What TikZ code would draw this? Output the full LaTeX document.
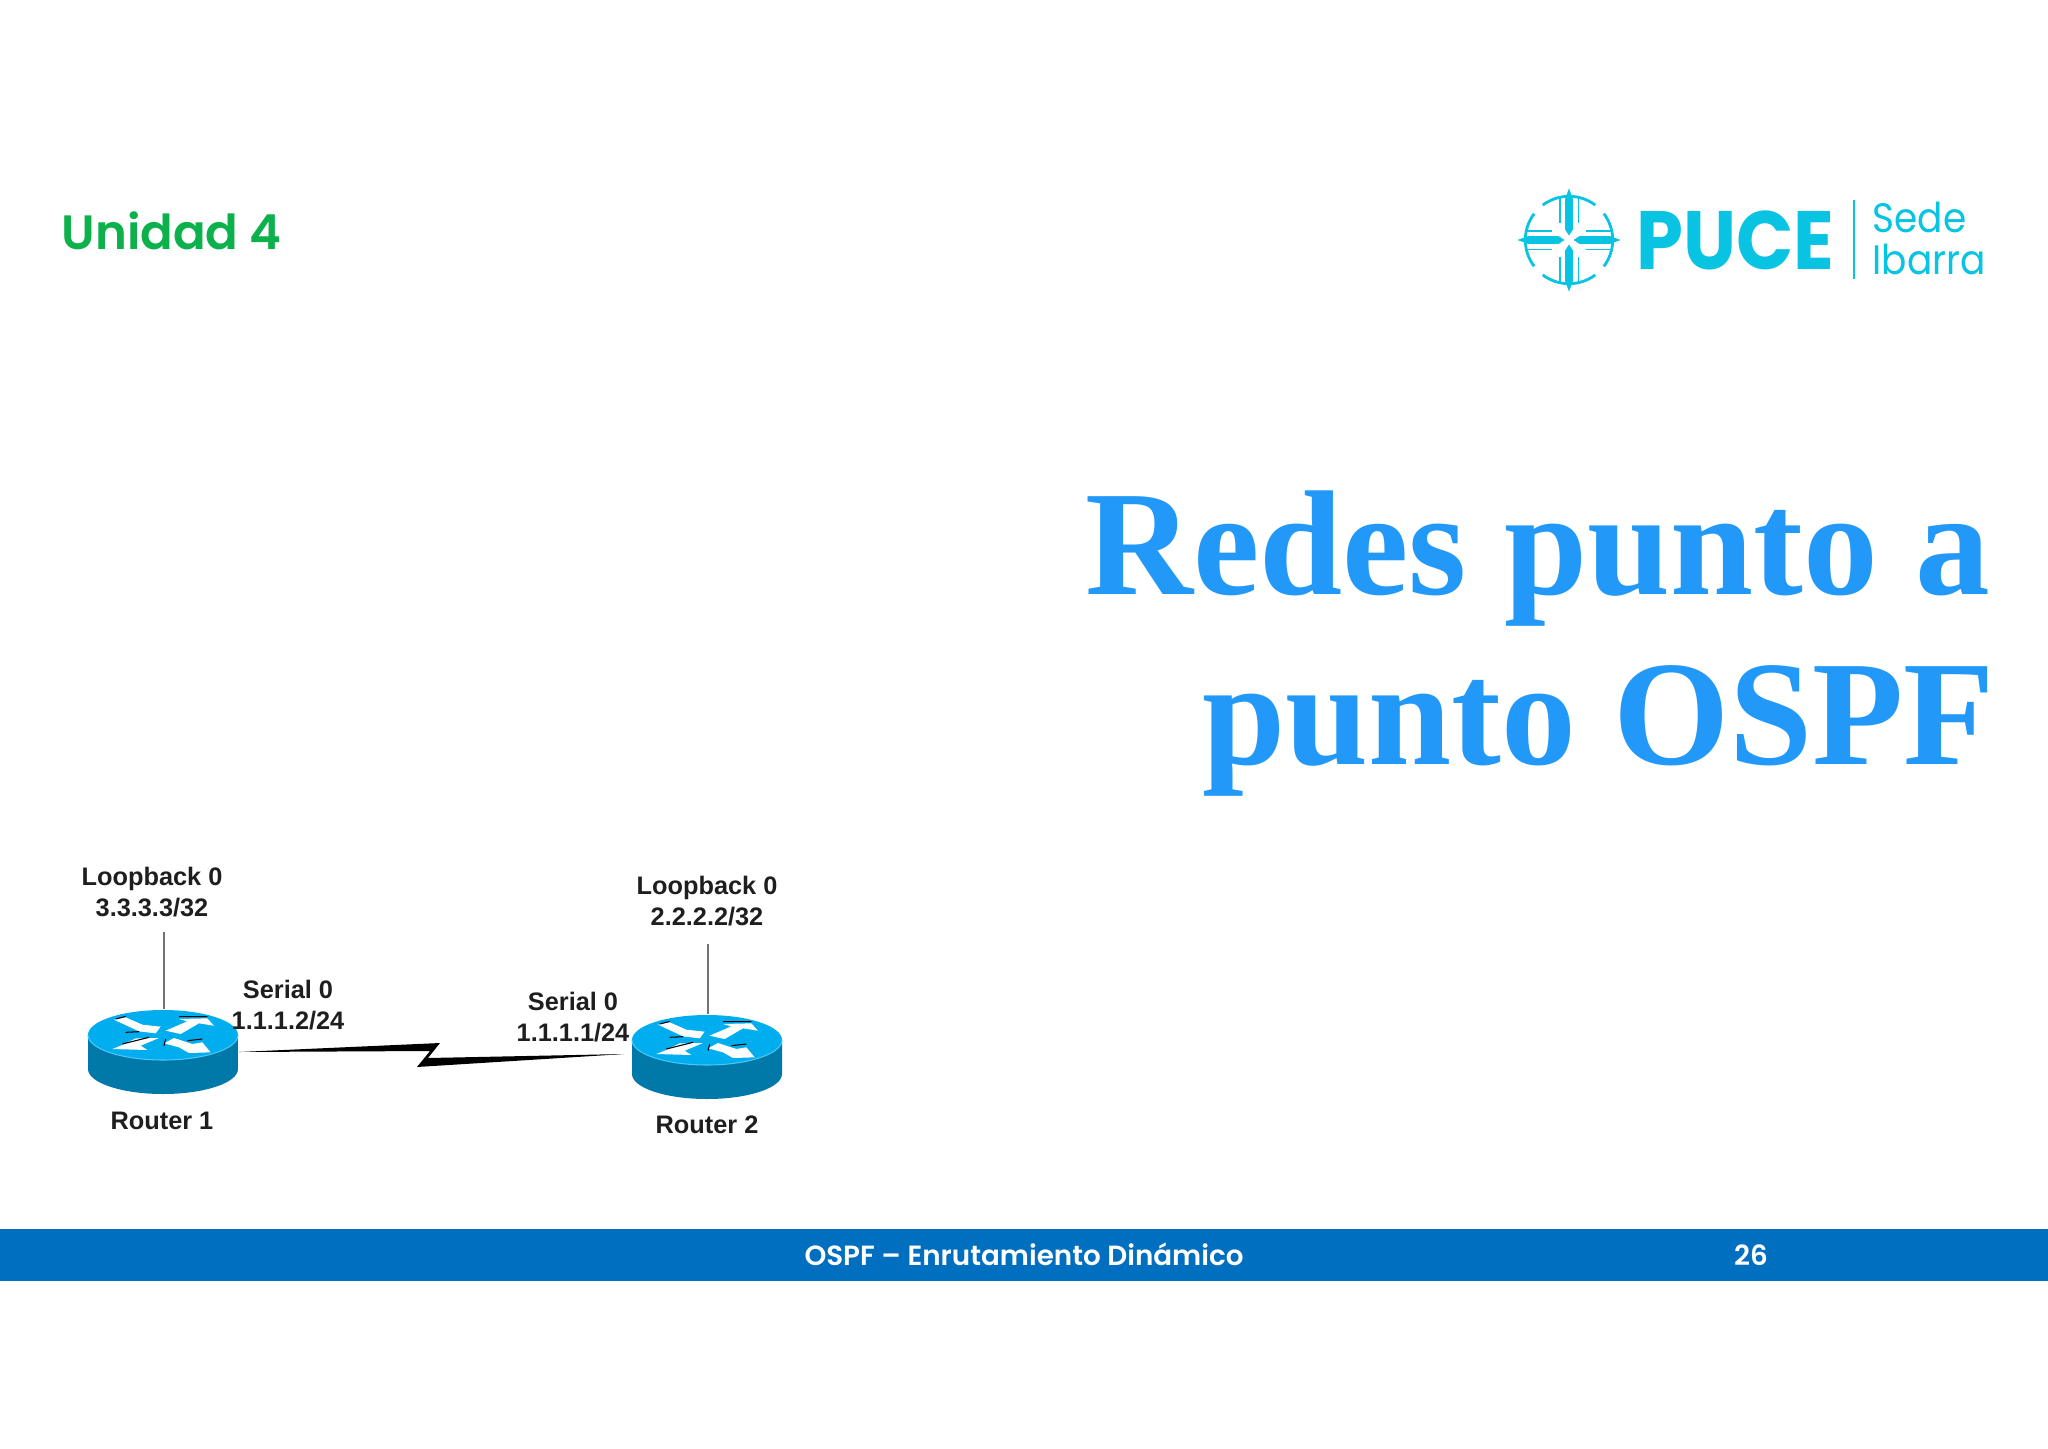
\documentclass[tikz,border=0pt]{standalone}
\usepackage{fontspec}
\setmainfont{Liberation Sans}
\newfontfamily\popfont{Poppins SemiBold}
\newfontfamily\pucefont[FakeStretch=0.91]{Poppins}
\newfontfamily\titlefont{Liberation Serif}
\usetikzlibrary{calc}
\definecolor{pucecyan}{HTML}{08C3E2}
\definecolor{unidadgreen}{HTML}{0DB14B}
\definecolor{titleblue}{HTML}{2299F8}
\definecolor{barblue}{HTML}{006FBF}
\definecolor{routertop}{HTML}{00AEF0}
\definecolor{routerside}{HTML}{0079A9}
\definecolor{labelink}{HTML}{1E1E1E}
\tikzset{
  titletext/.style={anchor=base east,text=titleblue,font=\fontsize{42.5}{46}\selectfont\titlefont\bfseries,inner sep=0pt},
  bartext/.style={anchor=base,text=white,font=\fontsize{7.9}{10}\selectfont\popfont,inner sep=0pt},
  netlabel/.style={anchor=base,align=center,text=labelink,font=\fontsize{7.2}{8.8}\selectfont\bfseries,inner sep=0pt},
  sedetext/.style={anchor=base west,text=pucecyan,font=\fontsize{11.7}{12}\selectfont\pucefont,inner sep=0pt},
  routerbox/.style={minimum width=1.5cm,minimum height=0.84cm,inner sep=0pt},
  stublink/.style={draw=black!55,line width=0.55pt},
}
\begin{document}
\begin{tikzpicture}[x=0.01cm,y=-0.01cm]
    \useasboundingbox (0,0) rectangle (2048,1448);
    % header
    \node[anchor=base west,text=unidadgreen,font=\fontsize{13.7}{16}\selectfont\popfont,inner sep=0pt] (unidad) at (61,249) {Unidad 4};
    % logo
    \begin{scope}[shift={(1569,240)},scale=0.344]
      \foreach \a in {0,90,180,270}{
        \begin{scope}[rotate=\a]
          \fill[pucecyan] (150,0) -- (120,-11) -- (30,-11) -- (13,0) -- (30,11) -- (120,11) -- cycle;
          \draw[pucecyan,line width=0.45pt] (50,-27) -- (122,-27) (50,27) -- (122,27);
          \draw[pucecyan,line width=0.8pt] (-37:127) arc[start angle=-37,end angle=37,radius=127];
        \end{scope}
      }
    \end{scope}
    \node[anchor=base west,text=pucecyan,font=\fontsize{23.5}{24}\selectfont\pucefont\bfseries,inner sep=0pt] (puce) at (1636,269) {PUCE};
    \coordinate (divtop) at (1854,200);
    \coordinate (divbot) at (1854,279);
    \draw[pucecyan,line width=0.35pt] (divtop) -- (divbot);
    \node[sedetext] (sede) at (1872,232) {Sede};
    \node[sedetext] (ibarra) at (1872,274) {Ibarra};
    % title
    \node[titletext] (titleone) at (1991,594) {Redes punto a};
    \node[titletext] (titletwo) at (1996,764) {punto OSPF};
    % routers
    \foreach \name/\cx/\cy in {rone/163/1035,rtwo/707/1040}{
      \begin{scope}[shift={(\cx,\cy)},scale=0.3333]
        \fill[routerside] (-225,0) -- (-225,102) arc[start angle=180,end angle=0,x radius=225,y radius=75] -- (225,0) -- cycle;
        \fill[routertop] (0,0) ellipse[x radius=225,y radius=75];
        \draw[white!30!routertop,line width=0.3pt] (-225,0) arc[start angle=180,end angle=0,x radius=225,y radius=75];
        \fill[white] (-147,-46) -- (-112,-53) -- (-62,-31) -- (-7,-25) -- (-22,-5) -- (-72,-11) -- cycle;
        \fill[white] (8,-13) -- (73,-41) -- (48,-48) -- (133,-50) -- (153,-28) -- (108,-35) -- (53,-3) -- cycle;
        \fill[white] (-12,9) -- (-67,32) -- (-47,45) -- (-152,42) -- (-127,32) -- (-82,10) -- cycle;
        \fill[white] (3,25) -- (33,9) -- (88,27) -- (118,22) -- (143,52) -- (78,54) -- (48,37) -- cycle;
        \draw[black,line width=0.3pt] (48,-55) -- (133,-55) (-142,-48) -- (-112,-56) (-112,-8) -- (-72,-10) (-122,27) -- (-42,7) (8,12) -- (3,32) (73,17) -- (118,12);
        \node[routerbox] (\name) at (0,51) {};
      \end{scope}
    }
    \coordinate (lbone) at (164,932);
    \coordinate (lbtwo) at (708,944);
    \draw[stublink] (lbone) -- (rone.north-|lbone);
    \draw[stublink] (lbtwo) -- (rtwo.north-|lbtwo);
    % serial link
    \fill[black] (rone.east) -- (440,1043) -- (428,1058) -- ($(rtwo.west)+(-7,-3)$) -- (417,1067) -- (430,1051) -- cycle;
    % labels
    \node[netlabel] (lbonetext) at (152,916) {Loopback 0\\3.3.3.3/32};
    \node[netlabel] (lbtwotext) at (707,925) {Loopback 0\\2.2.2.2/32};
    \node[netlabel] (seronetext) at (288,1029) {Serial 0\\1.1.1.2/24};
    \node[netlabel] (sertwotext) at (573,1041) {Serial 0\\1.1.1.1/24};
    \node[netlabel] (ronetext) at (162,1129) {Router 1};
    \node[netlabel] (rtwotext) at (707,1133) {Router 2};
    % footer
    \fill[barblue] (0,1229) rectangle (2048,1281);
    \node[bartext] (footer) at (1024,1265) {OSPF – Enrutamiento Dinámico};
    \node[bartext] (pagenum) at (1751,1265) {26};
  \end{tikzpicture}
\end{document}
